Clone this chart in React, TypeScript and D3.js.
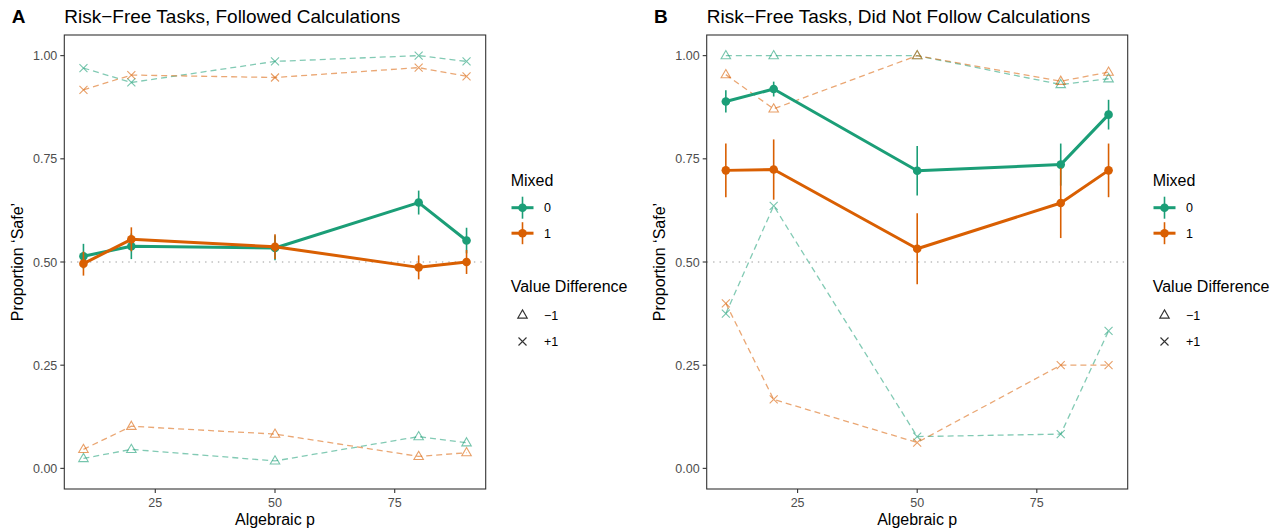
import React from "react";
import * as d3 from "d3";

// algebraic p on the x axis
const pValues = [10, 20, 50, 80, 90];
const xTicks = [25, 50, 75];
const yTicks = [0, 0.25, 0.5, 0.75, 1];

// panel A: followed calculations
const aMixed0 = [0.514, 0.538, 0.534, 0.644, 0.552];
const aMixed0Se = [0.03, 0.031, 0.03, 0.029, 0.031];
const aMixed1 = [0.496, 0.555, 0.537, 0.487, 0.5];
const aMixed1Se = [0.029, 0.029, 0.03, 0.029, 0.029];
const aNeg0 = [0.024, 0.046, 0.018, 0.077, 0.062];
const aNeg1 = [0.046, 0.102, 0.083, 0.029, 0.038];
const aPos0 = [0.97, 0.935, 0.986, 1.0, 0.986];
const aPos1 = [0.917, 0.953, 0.947, 0.971, 0.95];

// panel B: did not follow calculations
const bMixed0 = [0.889, 0.919, 0.721, 0.736, 0.857];
const bMixed0Se = [0.027, 0.018, 0.06, 0.051, 0.036];
const bMixed1 = [0.722, 0.724, 0.532, 0.643, 0.722];
const bMixed1Se = [0.065, 0.073, 0.086, 0.085, 0.065];
const bNeg0 = [1, 1, 1, 0.93, 0.944];
const bNeg1 = [0.954, 0.871, 1, 0.938, 0.96];
const bPos0 = [0.375, 0.636, 0.077, 0.083, 0.333];
const bPos1 = [0.4, 0.167, 0.0625, 0.25, 0.25];

const mixedLevels = ["0", "1"];
const diffLevels = ["\u22121", "+1"];
const colors = ["#1B9E77", "#D95F02"];

const font = "'Liberation Sans', Arial, Helvetica, sans-serif";

const panels = [
  {
    tag: "A",
    title: "Risk\u2212Free Tasks, Followed Calculations",
    left: 64.3,
    right: 485.7,
    mixed: [aMixed0, aMixed1],
    se: [aMixed0Se, aMixed1Se],
    neg: [aNeg0, aNeg1],
    pos: [aPos0, aPos1],
  },
  {
    tag: "B",
    title: "Risk\u2212Free Tasks, Did Not Follow Calculations",
    left: 706.7,
    right: 1127.7,
    mixed: [bMixed0, bMixed1],
    se: [bMixed0Se, bMixed1Se],
    neg: [bNeg0, bNeg1],
    pos: [bPos0, bPos1],
  },
];

const top = 35;
const bottom = 489;

const Triangle = ({ x, y, s, color, opacity }) => {
  const h = s * 0.866;
  return (
    <path
      d={`M${x},${y - h * 0.62}L${x + s / 2},${y + h * 0.38}L${x - s / 2},${y + h * 0.38}Z`}
      fill="none"
      stroke={color}
      strokeOpacity={opacity}
      strokeWidth={1.1}
    />
  );
};

const Cross = ({ x, y, s, color, opacity }) => (
  <path
    d={`M${x - s},${y - s}L${x + s},${y + s}M${x - s},${y + s}L${x + s},${y - s}`}
    stroke={color}
    strokeOpacity={opacity}
    strokeWidth={1.1}
  />
);

const Panel = ({ panel }) => {
  const xScale = d3.scaleLinear().domain([6, 94]).range([panel.left, panel.right]);
  const yScale = d3.scaleLinear().domain([-0.05, 1.05]).range([bottom, top]);
  const line = d3
    .line<number>()
    .x((d, i) => xScale(pValues[i]))
    .y((d) => yScale(d));
  const fmt = d3.format(".2f");
  const lx = panel.right + 25;

  return (
    <g>
      <text x={panel.left - 52.6} y={23.3} fontFamily={font} fontSize={19} fontWeight="bold">
        {panel.tag}
      </text>
      <text x={panel.left} y={23.3} fontFamily={font} fontSize={19}>
        {panel.title}
      </text>

      <line
        x1={panel.left}
        x2={panel.right}
        y1={yScale(0.5)}
        y2={yScale(0.5)}
        stroke="#BDBDBD"
        strokeWidth={1.4}
        strokeDasharray="1.4,5"
      />

      {/* value difference series, dashed */}
      {[0, 1].map((k) => (
        <g key={"d" + k}>
          <path
            d={line(panel.neg[k])}
            fill="none"
            stroke={colors[k]}
            strokeOpacity={0.55}
            strokeWidth={1.3}
            strokeDasharray="6,4"
          />
          <path
            d={line(panel.pos[k])}
            fill="none"
            stroke={colors[k]}
            strokeOpacity={0.55}
            strokeWidth={1.3}
            strokeDasharray="6,4"
          />
          {panel.neg[k].map((v, i) => (
            <Triangle key={"t" + i} x={xScale(pValues[i])} y={yScale(v)} s={9.5} color={colors[k]} opacity={0.6} />
          ))}
          {panel.pos[k].map((v, i) => (
            <Cross key={"c" + i} x={xScale(pValues[i])} y={yScale(v)} s={4} color={colors[k]} opacity={0.6} />
          ))}
        </g>
      ))}

      {/* mixed series with error bars */}
      {[0, 1].map((k) => (
        <g key={"m" + k}>
          <path d={line(panel.mixed[k])} fill="none" stroke={colors[k]} strokeWidth={3} strokeLinejoin="round" />
          {panel.mixed[k].map((v, i) => (
            <g key={i}>
              <line
                x1={xScale(pValues[i])}
                x2={xScale(pValues[i])}
                y1={yScale(v - panel.se[k][i])}
                y2={yScale(v + panel.se[k][i])}
                stroke={colors[k]}
                strokeWidth={1.6}
              />
              <circle cx={xScale(pValues[i])} cy={yScale(v)} r={4.3} fill={colors[k]} />
            </g>
          ))}
        </g>
      ))}

      <rect
        x={panel.left}
        y={top}
        width={panel.right - panel.left}
        height={bottom - top}
        fill="none"
        stroke="#333333"
        strokeWidth={1.1}
      />

      {/* axes */}
      {yTicks.map((t) => (
        <g key={"y" + t}>
          <line x1={panel.left - 4} x2={panel.left} y1={yScale(t)} y2={yScale(t)} stroke="#333333" strokeWidth={1.1} />
          <text
            x={panel.left - 7}
            y={yScale(t)}
            dy="0.36em"
            textAnchor="end"
            fontFamily={font}
            fontSize={12.5}
            fill="#4D4D4D"
          >
            {fmt(t)}
          </text>
        </g>
      ))}
      {xTicks.map((t) => (
        <g key={"x" + t}>
          <line x1={xScale(t)} x2={xScale(t)} y1={bottom} y2={bottom + 4} stroke="#333333" strokeWidth={1.1} />
          <text x={xScale(t)} y={506.5} textAnchor="middle" fontFamily={font} fontSize={12.5} fill="#4D4D4D">
            {t}
          </text>
        </g>
      ))}
      <text
        x={(panel.left + panel.right) / 2}
        y={525}
        textAnchor="middle"
        fontFamily={font}
        fontSize={16}
      >
        Algebraic p
      </text>
      <text
        transform={`translate(${panel.left - 41.5},${(top + bottom) / 2})rotate(-90)`}
        textAnchor="middle"
        fontFamily={font}
        fontSize={16}
      >
        Proportion {"\u2018"}Safe{"\u2019"}
      </text>

      {/* legends */}
      <text x={lx} y={185.5} fontFamily={font} fontSize={16}>
        Mixed
      </text>
      {mixedLevels.map((lab, k) => {
        const cy = 207.7 + k * 25.5;
        const cx = lx + 11.8;
        return (
          <g key={"lm" + k}>
            <line x1={cx - 11} x2={cx + 11} y1={cy} y2={cy} stroke={colors[k]} strokeWidth={3} />
            <line x1={cx} x2={cx} y1={cy - 11} y2={cy + 11} stroke={colors[k]} strokeWidth={1.6} />
            <circle cx={cx} cy={cy} r={4.3} fill={colors[k]} />
            <text x={lx + 33.3} y={cy} dy="0.36em" fontFamily={font} fontSize={12.5}>
              {lab}
            </text>
          </g>
        );
      })}
      <text x={lx} y={292.3} fontFamily={font} fontSize={16}>
        Value Difference
      </text>
      {diffLevels.map((lab, k) => {
        const cy = 315 + k * 26.5;
        const cx = lx + 11.8;
        return (
          <g key={"ld" + k}>
            {k === 0 ? (
              <Triangle x={cx} y={cy} s={9.5} color="#333333" opacity={1} />
            ) : (
              <Cross x={cx} y={cy} s={4} color="#333333" opacity={1} />
            )}
            <text x={lx + 33.3} y={cy} dy="0.36em" fontFamily={font} fontSize={12.5}>
              {lab}
            </text>
          </g>
        );
      })}
    </g>
  );
};

export default function App() {
  return (
    <svg
      width={1281}
      height={531}
      style={{ position: "absolute", left: 0, top: 0, background: "#fff" }}
    >
      {panels.map((p) => (
        <Panel key={p.tag} panel={p} />
      ))}
    </svg>
  );
}
